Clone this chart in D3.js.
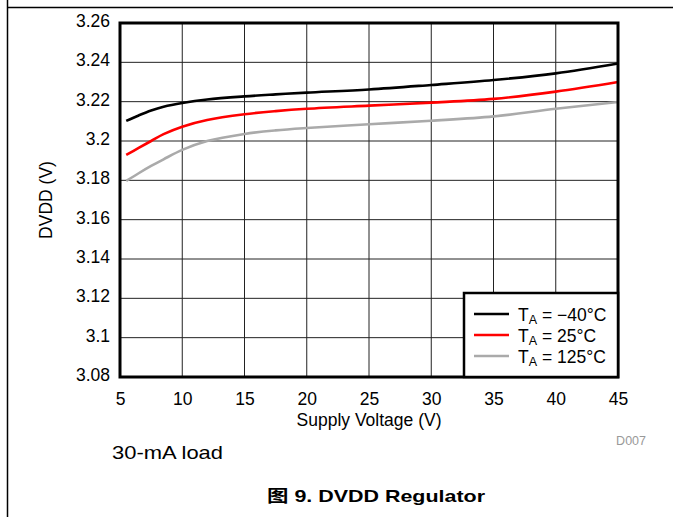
<!DOCTYPE html>
<html>
<head>
<meta charset="utf-8">
<script src="https://cdn.jsdelivr.net/npm/d3@7"></script>
<style>
  html, body { margin: 0; padding: 0; background: #fff; }
  svg { display: block; }
  text { font-family: "Liberation Sans", Arial, "Noto Sans CJK SC", sans-serif; }
</style>
</head>
<body>
<svg id="chart" width="673" height="517"></svg>
<script>
// ---- Data ----
const voltage = [5.5, 6.5, 7.5, 8.5, 10, 12, 15, 17.5, 20, 25, 30, 35, 40, 45];
const tempMinus40 = [3.2102, 3.2130, 3.2155, 3.2174, 3.2193, 3.2211, 3.2227, 3.2237, 3.2246, 3.2262, 3.2285, 3.2310, 3.2344, 3.2394];
const temp25 = [3.1929, 3.1965, 3.2000, 3.2035, 3.2073, 3.2107, 3.2136, 3.2152, 3.2164, 3.2180, 3.2195, 3.2214, 3.2251, 3.2300];
const temp125 = [3.1797, 3.1836, 3.1873, 3.1907, 3.1955, 3.2000, 3.2036, 3.2054, 3.2066, 3.2085, 3.2103, 3.2125, 3.2164, 3.2198];

const seriesNames = ["\u221240\u00B0C", "25\u00B0C", "125\u00B0C"];
const seriesColors = ["#000000", "#ff0000", "#aaaaaa"];

const xTicks = [5, 10, 15, 20, 25, 30, 35, 40, 45];
const yTicks = [3.08, 3.1, 3.12, 3.14, 3.16, 3.18, 3.2, 3.22, 3.24, 3.26];

const xTitle = "Supply Voltage (V)";
const yTitle = "DVDD (V)";
const noteText = "30-mA load";
const figTitle = "\u56FE 9. DVDD Regulator";
const codeText = "D007";

// ---- Layout ----
const svg = d3.select("#chart");
const L = 120, R = 618, T = 23, B = 377;

const x = d3.scaleLinear().domain([5, 45]).range([L, R]);
const y = d3.scaleLinear().domain([3.08, 3.26]).range([B, T]);

// page frame lines
svg.append("line").attr("x1", 7.5).attr("x2", 7.5).attr("y1", 0).attr("y2", 517)
  .attr("stroke", "#000").attr("stroke-width", 1.5);
svg.append("line").attr("x1", 7).attr("x2", 673).attr("y1", 7.5).attr("y2", 7.5)
  .attr("stroke", "#000").attr("stroke-width", 1.5);

// grid
const grid = svg.append("g");
grid.selectAll("line.vx").data(xTicks).join("line")
  .attr("x1", d => x(d)).attr("x2", d => x(d)).attr("y1", T).attr("y2", B)
  .attr("stroke", "#222").attr("stroke-width", 1);
grid.selectAll("line.hy").data(yTicks).join("line")
  .attr("x1", L).attr("x2", R).attr("y1", d => y(d)).attr("y2", d => y(d))
  .attr("stroke", "#222").attr("stroke-width", 1);

// axes (labels only)
const xAxis = svg.append("g").attr("transform", `translate(0,${B})`)
  .call(d3.axisBottom(x).tickValues(xTicks).tickSize(0).tickPadding(0).tickFormat(d => String(d)));
xAxis.select(".domain").remove();
xAxis.selectAll("text").attr("y", 28).attr("dy", null)
  .style("font-family", "'Liberation Sans', Arial, sans-serif")
  .attr("font-size", 17.5).attr("fill", "#000");

const yAxis = svg.append("g").attr("transform", `translate(${L},0)`)
  .call(d3.axisLeft(y).tickValues(yTicks).tickSize(0).tickPadding(0).tickFormat(d => String(+d.toFixed(2))));
yAxis.select(".domain").remove();
yAxis.selectAll("text").attr("x", -10).attr("dy", null).attr("y", 3.5)
  .style("font-family", "'Liberation Sans', Arial, sans-serif")
  .attr("font-size", 17.5).attr("fill", "#000");

// lines
const allSeries = [tempMinus40, temp25, temp125];
const line = d3.line().x(d => x(d[0])).y(d => y(d[1])).curve(d3.curveCatmullRom.alpha(0.5));
const plot = svg.append("g");
allSeries.slice().reverse().forEach((vals, ri) => {
  const i = allSeries.length - 1 - ri;
  plot.append("path")
    .datum(voltage.map((v, k) => [v, vals[k]]))
    .attr("d", line)
    .attr("fill", "none")
    .attr("stroke", seriesColors[i])
    .attr("stroke-width", 2.6)
    .attr("stroke-linecap", "butt");
});

// plot border
svg.append("rect").attr("x", L).attr("y", T).attr("width", R - L).attr("height", B - T)
  .attr("fill", "none").attr("stroke", "#000").attr("stroke-width", 3);

// legend
const lg = svg.append("g");
lg.append("rect").attr("x", 464).attr("y", 293).attr("width", R - 464).attr("height", B - 293)
  .attr("fill", "#fff").attr("stroke", "#000").attr("stroke-width", 2.5);
seriesNames.forEach((name, i) => {
  const ly = 314 + i * 21;
  lg.append("line").attr("x1", 474).attr("x2", 509).attr("y1", ly).attr("y2", ly)
    .attr("stroke", seriesColors[i]).attr("stroke-width", 2.6);
  const t = lg.append("text").attr("x", 518).attr("y", ly + 6.5)
    .attr("font-size", 17.5).attr("fill", "#000");
  t.append("tspan").text("T");
  t.append("tspan").attr("font-size", 12.5).attr("dy", 3.5).text("A");
  t.append("tspan").attr("dy", -3.5).text(" = " + name);
});

// axis titles
svg.append("text").attr("x", (L + R) / 2).attr("y", 426).attr("text-anchor", "middle")
  .attr("font-size", 17.5).attr("fill", "#000").text(xTitle);
svg.append("text").attr("transform", `translate(52,${(T + B) / 2}) rotate(-90)`)
  .attr("text-anchor", "middle").attr("font-size", 17.5).attr("fill", "#000").text(yTitle);

// code label
svg.append("text").attr("x", 646).attr("y", 445).attr("text-anchor", "end")
  .attr("font-size", 12.5).attr("fill", "#999").text(codeText);

// note
svg.append("text").attr("x", 112).attr("y", 459)
  .attr("font-size", 19).attr("fill", "#000")
  .attr("textLength", 111).attr("lengthAdjust", "spacingAndGlyphs").text(noteText);

// figure title
svg.append("text").attr("x", 267).attr("y", 502)
  .attr("font-size", 17).attr("font-weight", "bold").attr("fill", "#000")
  .attr("textLength", 218).attr("lengthAdjust", "spacingAndGlyphs").text(figTitle);
</script>
</body>
</html>
